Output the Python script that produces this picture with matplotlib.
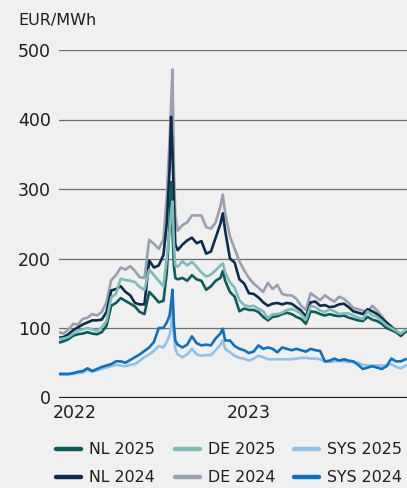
import matplotlib
matplotlib.use("Agg")
import matplotlib.pyplot as plt
from matplotlib.lines import Line2D
import numpy as np
import pandas as pd

# Observation days, counted from 1 January 2022
day_offsets = [0, 10, 20, 30, 40, 50, 60, 70, 80, 90, 100, 110, 120, 130, 140, 150,
               160, 170, 180, 190, 200, 210, 220,
               227, 233, 236, 239, 242, 245,
               250, 260, 270, 280, 290, 300, 310, 320, 330, 340, 345,
               350, 360, 370, 380, 390, 400, 410, 420, 430, 440, 450, 460, 470, 480,
               490, 500, 510, 520, 530, 540, 550, 560, 570, 580, 590, 600, 610, 620,
               630, 640, 650, 660, 670, 680, 690, 700, 710, 720, 730]

# Forward prices in EUR/MWh
nl_2025 = [79, 81, 84, 89, 91, 92, 94, 92, 91, 94, 103, 132, 136, 143, 139, 135,
           131, 123, 120, 152, 145, 137, 139,
           180, 250, 310, 240, 190, 172,
           170, 172, 168, 176, 170, 168, 155, 160, 168, 172, 182,
           168, 152, 145, 124, 128, 126, 126, 123, 116, 111, 116, 117, 120, 122,
           120, 116, 113, 106, 124, 123, 120, 118, 120, 118, 117, 118, 115, 113,
           111, 110, 116, 112, 110, 106, 100, 97, 94, 90, 95]
de_2025 = [84, 85, 87, 92, 96, 98, 100, 98, 96, 101, 110, 144, 149, 171, 169, 168,
           166, 159, 155, 184, 176, 168, 160,
           200, 240, 265, 282, 220, 190,
           188, 196, 190, 195, 188, 180, 174, 177, 183, 190, 193,
           180, 166, 158, 140, 133, 131, 132, 128, 124, 114, 120, 120, 122, 126,
           127, 125, 120, 112, 132, 130, 125, 123, 127, 124, 120, 121, 121, 118,
           115, 113, 124, 118, 116, 110, 104, 100, 96, 92, 97]
sys_2025 = [33, 33, 33, 34, 35, 36, 40, 37, 39, 41, 43, 45, 47, 46, 45, 47,
            48, 53, 58, 62, 67, 74, 72,
            80, 90, 100, 128, 90, 70,
            62, 58, 62, 70, 62, 60, 61, 61, 68, 76, 82,
            70, 65, 60, 57, 56, 53, 56, 60, 58, 55, 55, 55, 55, 55,
            55, 56, 57, 57, 56, 56, 55, 52, 51, 52, 53, 52, 51, 51,
            50, 47, 46, 46, 46, 46, 46, 48, 44, 42, 46]
nl_2024 = [86, 87, 91, 97, 101, 105, 108, 111, 111, 112, 123, 154, 156, 160, 152, 147,
           136, 134, 134, 197, 187, 190, 205,
           250, 330, 404, 355, 280, 220,
           212, 220, 226, 230, 222, 225, 207, 210, 230, 250, 265,
           240, 200, 194, 170, 164, 150, 149, 144, 137, 132, 135, 136, 134, 136,
           135, 130, 125, 116, 137, 138, 132, 133, 130, 131, 134, 135, 130, 124,
           122, 120, 127, 124, 120, 114, 108, 102, 96, 89, 95]
de_2024 = [94, 92, 98, 106, 105, 113, 115, 120, 118, 123, 137, 169, 176, 187, 184, 189,
           182, 173, 172, 227, 221, 214, 227,
           290, 370, 420, 472, 330, 262,
           240, 248, 252, 262, 262, 262, 245, 243, 252, 275, 292,
           265, 232, 214, 196, 183, 172, 164, 158, 152, 165, 156, 162, 149, 147,
           147, 142, 132, 126, 150, 145, 140, 147, 142, 138, 145, 142, 136, 129,
           127, 125, 124, 132, 125, 117, 107, 100, 94, 88, 95]
sys_2024 = [34, 34, 34, 35, 37, 38, 42, 38, 41, 44, 46, 48, 52, 52, 50, 54,
            58, 62, 67, 72, 80, 100, 100,
            108, 118, 135, 155, 105, 82,
            76, 72, 76, 88, 78, 75, 76, 75, 85, 92, 99,
            82, 82, 74, 70, 68, 64, 66, 75, 70, 72, 70, 65, 72, 70,
            68, 70, 68, 66, 70, 68, 67, 52, 53, 56, 53, 55, 53, 52,
            47, 41, 43, 45, 43, 41, 45, 56, 52, 52, 55]

y_ticks = [0, 100, 200, 300, 400, 500]
x_tick_labels = ["2022", "2023"]

dates = pd.Timestamp("2022-01-01") + pd.to_timedelta(day_offsets, unit="D")

BG = "#f0f0f0"
TEXT = "#1e1e1e"
colors = {
    "NL 2025": "#0d5b5a",
    "DE 2025": "#7dbcb7",
    "SYS 2025": "#92c0e6",
    "NL 2024": "#0f2b4c",
    "DE 2024": "#9aa0ae",
    "SYS 2024": "#1170bd",
}
series = {
    "NL 2025": nl_2025, "DE 2025": de_2025, "SYS 2025": sys_2025,
    "NL 2024": nl_2024, "DE 2024": de_2024, "SYS 2024": sys_2024,
}
draw_order = ["DE 2024", "NL 2024", "NL 2025", "DE 2025", "SYS 2025", "SYS 2024"]

plt.rcParams["font.family"] = ["DejaVu Sans"]
W, H = 407, 488
fig = plt.figure(figsize=(W / 100, H / 100), dpi=100, facecolor=BG)
ax = fig.add_axes([59 / W, 1 - 397.5 / H, 348 / W, 347.5 / H], facecolor=BG)

for y in y_ticks[1:]:
    ax.axhline(y, color="#6e6e6e", lw=0.9, zorder=1)
ax.axhline(0, color="#1a1a1a", lw=1.6, zorder=5)

for name in draw_order:
    ax.plot(dates, series[name], color=colors[name], lw=1.9, zorder=3,
            solid_joinstyle="round")

ax.set_ylim(0, 500)
ax.set_xlim(pd.Timestamp("2022-01-01"), pd.Timestamp("2024-01-04"))
ax.set_yticks(y_ticks)
ax.set_yticklabels([str(v) for v in y_ticks], fontsize=12.5, color=TEXT)
ax.tick_params(axis="y", length=0, pad=6)
ax.set_xticks([])
for s in ax.spines.values():
    s.set_visible(False)

# Year labels sit just right of each January 1st
for lbl in x_tick_labels:
    ax.annotate(lbl, xy=(pd.Timestamp(f"{lbl}-01-01"), 0), xycoords=("data", "axes fraction"),
                xytext=(-6, -6), textcoords="offset pixels", ha="left", va="top",
                fontsize=12.5, color=TEXT)

fig.text(18 / W, 1 - 20 / H, "EUR/MWh", fontsize=11.5, color=TEXT, ha="left", va="center")

# Legend laid out in two rows of three
legend_rows = [["NL 2025", "DE 2025", "SYS 2025"], ["NL 2024", "DE 2024", "SYS 2024"]]
row_y = [449, 477]
col_x = [56, 175, 294]
for r, row in enumerate(legend_rows):
    for c, name in enumerate(row):
        yf = 1 - row_y[r] / H
        fig.add_artist(Line2D([col_x[c] / W, (col_x[c] + 25) / W], [yf, yf],
                              color=colors[name], lw=3.2, solid_capstyle="round"))
        fig.text((col_x[c] + 33) / W, yf, name, fontsize=11.4, color=TEXT,
                 ha="left", va="center")

fig.savefig("out.png", dpi=100, facecolor=BG)
